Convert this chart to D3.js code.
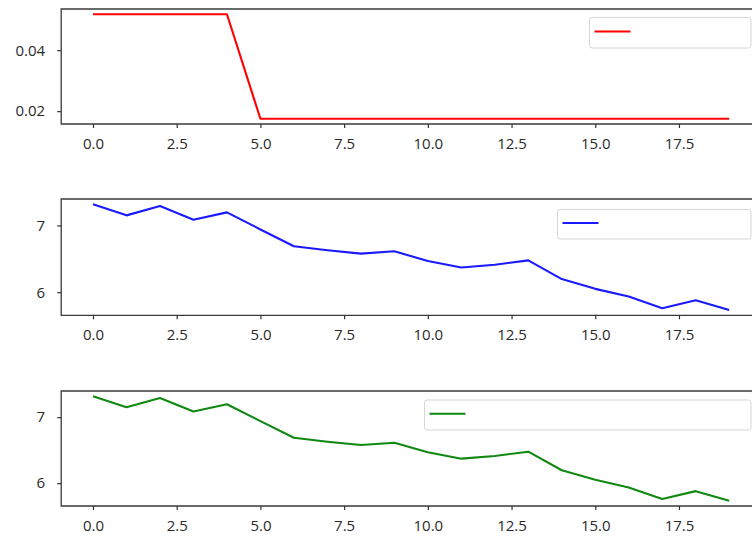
<!DOCTYPE html>
<html>
<head>
<meta charset="utf-8">
<script src="https://cdn.jsdelivr.net/npm/d3@7"></script>
<style>
  html, body { margin: 0; padding: 0; background: #fff; }
  svg { display: block; font-family: "Open Sans", "DejaVu Sans", sans-serif; }
</style>
</head>
<body>
<svg id="chart" width="752" height="537"></svg>
<script>
// Epoch index shared by all three panels
const epochs = d3.range(20);

// Learning rate per epoch (step schedule)
const lrValues = [0.0518, 0.0518, 0.0518, 0.0518, 0.0518,
                  0.0175, 0.0175, 0.0175, 0.0175, 0.0175,
                  0.0175, 0.0175, 0.0175, 0.0175, 0.0175,
                  0.0175, 0.0175, 0.0175, 0.0175, 0.0175];

// Loss per epoch
const lossValues = [7.317, 7.151, 7.290, 7.086, 7.196, 6.940, 6.688, 6.628, 6.578, 6.613,
                    6.467, 6.371, 6.412, 6.477, 6.196, 6.050, 5.934, 5.759, 5.879, 5.733];

// Second loss trace per epoch
const lossValues2 = [7.317, 7.151, 7.290, 7.086, 7.196, 6.940, 6.688, 6.628, 6.578, 6.613,
                     6.467, 6.371, 6.412, 6.477, 6.196, 6.050, 5.934, 5.759, 5.879, 5.733];

// Tick labels
const xTicks = [0, 2.5, 5, 7.5, 10, 12.5, 15, 17.5];
const lrTicks = [0.02, 0.04];
const lossTicks = [6, 7];

const svg = d3.select("#chart");

// Shared x scale (5% margins around 0..19)
const x = d3.scaleLinear().domain([-0.95, 19.95]).range([61.2, 761]);

const panels = [
  { values: lrValues,    color: "#ff0000", top: 9,   bottom: 124,   ticks: lrTicks,   fmt: d3.format(".2f"),
    legend: { x0: 589.5, y0: 17.5, h: 30.5 } },
  { values: lossValues,  color: "#1a1aff", top: 199, bottom: 315.3, ticks: lossTicks, fmt: d3.format("d"),
    legend: { x0: 557.5, y0: 209.5, h: 29.5 } },
  { values: lossValues2, color: "#118811", top: 391, bottom: 506,   ticks: lossTicks, fmt: d3.format("d"),
    legend: { x0: 424.5, y0: 400, h: 30 } }
];

const legendRight = 751;

panels.forEach(p => {
  const [lo, hi] = d3.extent(p.values);
  const pad = (hi - lo) * 0.05;
  const y = d3.scaleLinear().domain([lo - pad, hi + pad]).range([p.bottom, p.top]);

  const g = svg.append("g");

  // Data line
  const line = d3.line().x((d, i) => x(epochs[i])).y(d => y(d));
  g.append("path")
    .datum(p.values)
    .attr("d", line)
    .attr("fill", "none")
    .attr("stroke", p.color)
    .attr("stroke-width", 2.1)
    .attr("stroke-linejoin", "round");

  // Frame: left, top and bottom spines
  const x0 = x.range()[0], x1 = x.range()[1];
  g.append("path")
    .attr("d", `M${x1},${p.top}H${x0}V${p.bottom}H${x1}`)
    .attr("fill", "none")
    .attr("stroke", "#3a3a3a")
    .attr("stroke-width", 1.3);

  // X axis
  const xAxis = d3.axisBottom(x).tickValues(xTicks).tickFormat(d3.format(".1f"))
    .tickSize(4).tickPadding(10);
  const gx = g.append("g").attr("transform", `translate(0,${p.bottom})`).call(xAxis);
  gx.select(".domain").remove();

  // Y axis
  const yAxis = d3.axisLeft(y).tickValues(p.ticks).tickFormat(p.fmt)
    .tickSize(4).tickPadding(12);
  const gy = g.append("g").attr("transform", `translate(${x0},0)`).call(yAxis);
  gy.select(".domain").remove();

  [gx, gy].forEach(a => {
    a.selectAll(".tick line").attr("stroke", "#333").attr("stroke-width", 1.2);
    a.selectAll(".tick text")
      .attr("fill", "#2a2a2a")
      .style("font-size", "15px")
      .style("font-family", "'Open Sans', 'DejaVu Sans', sans-serif");
  });

  // Legend box with line handle
  const L = p.legend;
  const lg = g.append("g");
  lg.append("rect")
    .attr("x", L.x0).attr("y", L.y0)
    .attr("width", legendRight - L.x0).attr("height", L.h)
    .attr("rx", 2.5)
    .attr("fill", "#fff")
    .attr("fill-opacity", 0.8)
    .attr("stroke", "#d6d6d6")
    .attr("stroke-width", 1);
  lg.append("line")
    .attr("x1", L.x0 + 5).attr("x2", L.x0 + 41)
    .attr("y1", L.y0 + L.h * 0.46).attr("y2", L.y0 + L.h * 0.46)
    .attr("stroke", p.color)
    .attr("stroke-width", 2.1);
});
</script>
</body>
</html>
